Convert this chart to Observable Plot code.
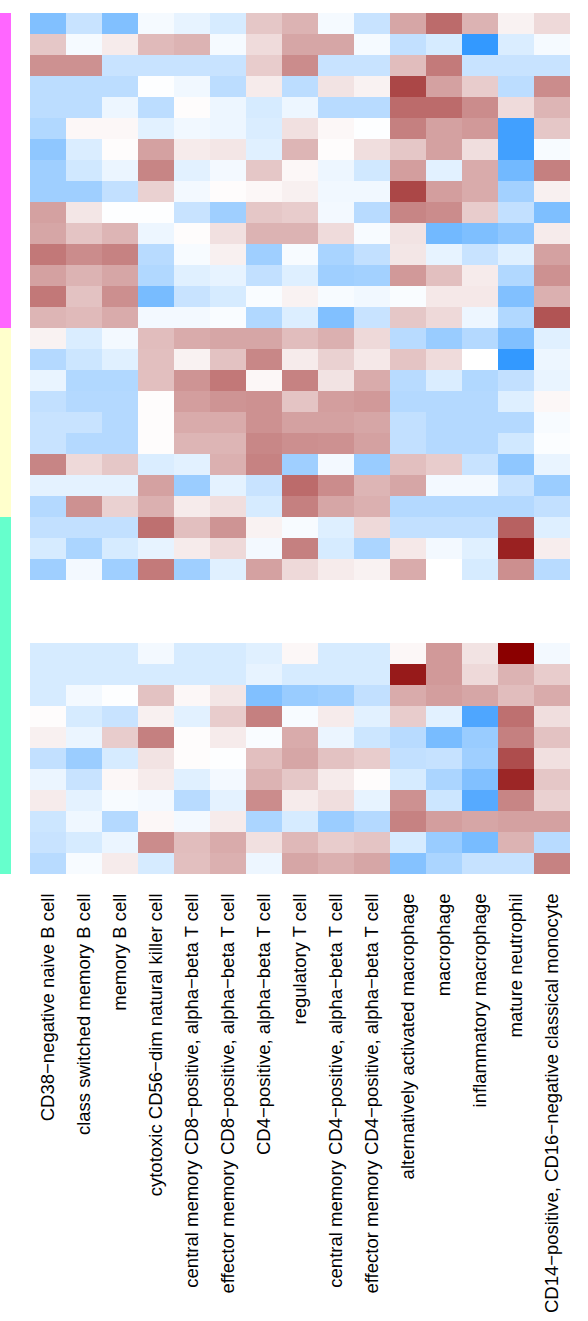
<!DOCTYPE html>
<html>
<head>
<meta charset="utf-8">
<script src="https://cdn.jsdelivr.net/npm/d3@7"></script>
<script src="https://cdn.jsdelivr.net/npm/@observablehq/plot@0.6"></script>
<style>
  html, body { margin: 0; padding: 0; background: #fff; }
  #wrap { display: flex; flex-direction: row; width: 588px; }
</style>
</head>
<body>
<div id="wrap"></div>
<script>
// Column categories (cell types)
const cellTypes = [
  "CD38−negative naive B cell",
  "class switched memory B cell",
  "memory B cell",
  "cytotoxic CD56−dim natural killer cell",
  "central memory CD8−positive, alpha−beta T cell",
  "effector memory CD8−positive, alpha−beta T cell",
  "CD4−positive, alpha−beta T cell",
  "regulatory T cell",
  "central memory CD4−positive, alpha−beta T cell",
  "effector memory CD4−positive, alpha−beta T cell",
  "alternatively activated macrophage",
  "macrophage",
  "inflammatory macrophage",
  "mature neutrophil",
  "CD14−positive, CD16−negative classical monocyte"
];

// Row group annotation
const groupNames = ["group 1", "group 2", "group 3"];
const groupColors = ["#FF66FF", "#FFFFCC", "#66FFCC"];

// Values (scaled, -1 = blue end, +1 = dark red end), one array per row
const group1Rows = [
  [-0.62,-0.27,-0.62,-0.05,-0.12,-0.2,0.22,0.3,-0.05,-0.27,0.35,0.58,0.3,0.05,0.15],
  [0.22,-0.05,0.08,0.27,0.3,-0.05,0.14,0.35,0.35,-0.05,-0.3,-0.2,-1,-0.18,-0.05],
  [0.43,0.43,-0.27,-0.27,-0.27,-0.27,0.2,0.45,-0.27,-0.27,0.26,0.52,-0.27,-0.27,-0.27],
  [-0.33,-0.33,-0.33,-0.01,-0.07,-0.33,0.08,-0.33,0.11,0.05,0.72,0.37,0.2,-0.33,0.45],
  [-0.33,-0.33,-0.09,-0.33,0.01,-0.09,-0.2,-0.09,-0.35,-0.35,0.58,0.58,0.45,0.14,0.29],
  [-0.38,0.03,0.03,-0.14,-0.07,-0.09,-0.18,0.12,0.03,-0.01,0.5,0.37,0.4,-0.93,0.22],
  [-0.55,-0.18,0.01,0.37,0.08,0.1,-0.15,0.29,0.01,0.13,0.22,0.37,0.13,-0.93,-0.04],
  [-0.47,-0.23,-0.1,0.48,-0.14,-0.06,0.22,0.03,-0.09,-0.23,0.38,-0.14,0.33,-0.69,0.5],
  [-0.47,-0.47,-0.3,0.18,-0.06,0.01,0.03,0.06,-0.07,-0.07,0.72,0.38,0.33,-0.45,0.06],
  [0.37,0.1,-0.01,-0.01,-0.27,-0.47,0.22,0.2,-0.06,-0.35,0.48,0.45,0.2,-0.3,-0.63],
  [0.35,0.23,0.29,-0.09,0.01,0.12,0.3,0.3,0.14,-0.04,0.11,-0.69,-0.63,-0.55,0.08],
  [0.53,0.45,0.49,-0.35,-0.04,0.06,-0.47,-0.04,-0.42,-0.3,0.1,-0.12,-0.27,-0.15,0.37],
  [0.37,0.3,0.35,-0.38,-0.15,-0.12,-0.3,-0.16,-0.47,-0.45,0.4,0.25,0.08,-0.38,0.43],
  [0.53,0.24,0.44,-0.66,-0.27,-0.2,-0.03,0.05,-0.04,-0.07,-0.03,0.09,0.09,-0.62,0.31],
  [0.29,0.27,0.33,-0.06,-0.06,-0.03,-0.38,-0.17,-0.62,-0.27,0.22,0.15,-0.09,-0.38,0.67]
];
const group2Rows = [
  [0.05,-0.18,-0.06,0.26,0.33,0.35,0.35,0.26,0.31,0.15,-0.35,-0.5,-0.37,-0.62,-0.15],
  [-0.37,-0.25,-0.15,0.25,0.05,0.24,0.47,0.08,0.18,0.09,0.23,0.14,0,-1,-0.09],
  [-0.11,-0.38,-0.38,0.25,0.42,0.53,0.03,0.49,0.11,0.33,-0.35,-0.18,-0.38,-0.3,-0.11],
  [-0.3,-0.37,-0.37,0.01,0.38,0.42,0.43,0.23,0.38,0.4,-0.37,-0.37,-0.37,-0.16,0.03],
  [-0.27,-0.27,-0.37,0.01,0.33,0.33,0.43,0.37,0.37,0.35,-0.3,-0.37,-0.37,-0.37,-0.04],
  [-0.27,-0.37,-0.37,0.01,0.29,0.29,0.47,0.44,0.43,0.37,-0.3,-0.37,-0.37,-0.23,-0.02],
  [0.48,0.15,0.22,-0.18,-0.14,0.31,0.49,-0.47,-0.06,-0.5,0.25,0.2,-0.27,-0.55,-0.11],
  [-0.13,-0.13,-0.13,0.37,-0.49,-0.13,-0.27,0.58,0.45,0.29,0.35,-0.06,-0.06,-0.27,-0.49],
  [-0.37,0.43,0.18,0.31,0.08,0.13,-0.2,0.5,0.35,0.31,-0.37,-0.37,-0.37,-0.37,-0.3]
];
// null = missing row (drawn blank)
const group3Rows = [
  [-0.3,-0.3,-0.3,0.56,0.25,0.42,0.05,-0.04,-0.16,0.15,-0.3,-0.3,-0.3,0.62,-0.16],
  [-0.2,-0.41,-0.2,-0.12,0.08,0.15,-0.06,0.5,-0.2,-0.41,0.09,-0.06,-0.15,0.87,0.07],
  [-0.47,-0.06,-0.47,0.52,-0.47,-0.15,0.37,0.15,0.08,0.05,0.33,0,-0.2,0.44,-0.35],
  null,
  null,
  null,
  [-0.2,-0.2,-0.2,-0.06,-0.2,-0.2,-0.15,0.03,-0.2,-0.2,0.03,0.4,0.11,1.0,-0.06],
  [-0.2,-0.2,-0.2,-0.2,-0.2,-0.2,-0.12,-0.2,-0.2,-0.2,0.9,0.4,0.15,0.3,0.2],
  [-0.2,-0.06,-0.01,0.24,0.03,0.1,-0.62,-0.5,-0.47,-0.3,0.33,0.38,0.35,0.26,0.33],
  [0.01,-0.2,-0.27,0.06,-0.14,0.2,0.5,-0.04,0.08,-0.14,0.2,-0.14,-0.87,0.56,0.13],
  [0.06,-0.1,0.2,0.5,0.01,0.08,-0.03,0.33,-0.1,-0.25,-0.35,-0.66,-0.5,0.5,0.24],
  [-0.3,-0.49,-0.2,0.11,0.01,-0.01,0.25,0.35,0.24,0.2,-0.3,-0.28,-0.47,0.7,0.12],
  [-0.1,-0.27,0.03,0.08,-0.15,-0.06,0.3,0.22,0.08,0.01,-0.2,-0.41,-0.62,0.85,0.22],
  [0.08,-0.13,-0.04,-0.06,-0.35,-0.13,0.45,0.08,0.13,-0.12,0.43,-0.25,-0.83,0.48,0.18],
  [-0.25,-0.08,-0.37,0.03,-0.06,0.08,-0.41,-0.2,-0.49,-0.37,0.49,0.38,0.35,0.37,0.37],
  [-0.27,-0.2,-0.1,0.45,0.26,0.33,0.12,0.28,0.2,0.23,-0.2,-0.5,-0.66,0.3,-0.35],
  [-0.35,-0.04,0.08,-0.2,0.25,0.31,-0.09,0.35,0.31,0.35,-0.6,-0.41,-0.28,-0.28,0.49]
];

// Colour ramp endpoints
const lowColor = "#3399FF", midColor = "#FFFFFF", highColor = "#8B0000";

// ---- build tables ----
const allGroups = [group1Rows, group2Rows, group3Rows];
const annot = [];
const cells = [];
let rowId = 0;
allGroups.forEach((rows, gi) => {
  rows.forEach(vals => {
    rowId++;
    annot.push({row: rowId, group: groupNames[gi]});
    if (vals) vals.forEach((v, ci) => cells.push({row: rowId, cell: cellTypes[ci], value: v}));
  });
});
const rowDomain = annot.map(d => d.row);

const H = 1321, MT = 11, MB = 446;
const font = "'Liberation Sans', Arial, Helvetica, sans-serif";

const left = Plot.plot({
  width: 24, height: H,
  marginLeft: 0, marginRight: 13, marginTop: MT, marginBottom: MB,
  style: {fontFamily: font, background: "#fff"},
  x: {domain: ["annotation"], padding: 0, axis: null},
  y: {domain: rowDomain, padding: 0, axis: null},
  color: {domain: groupNames, range: groupColors},
  marks: [
    Plot.cell(annot, {x: () => "annotation", y: "row", fill: "group", shapeRendering: "crispEdges"})
  ]
});

const right = Plot.plot({
  width: 564, height: H,
  marginLeft: 0, marginRight: 13, marginTop: MT, marginBottom: MB,
  style: {fontFamily: font, background: "#fff"},
  x: {domain: cellTypes, padding: 0, axis: null},
  y: {domain: rowDomain, padding: 0, axis: null},
  color: {type: "linear", domain: [-1, 0, 1], range: [lowColor, midColor, highColor], interpolate: "rgb"},
  marks: [
    Plot.cell(cells, {x: "cell", y: "row", fill: "value", shapeRendering: "crispEdges"}),
    Plot.axisX({tickRotate: -90, tickSize: 0, tickPadding: 18, fontSize: 18.5, fill: "#000", label: null})
  ]
});

document.getElementById("wrap").append(left, right);
</script>
</body>
</html>
